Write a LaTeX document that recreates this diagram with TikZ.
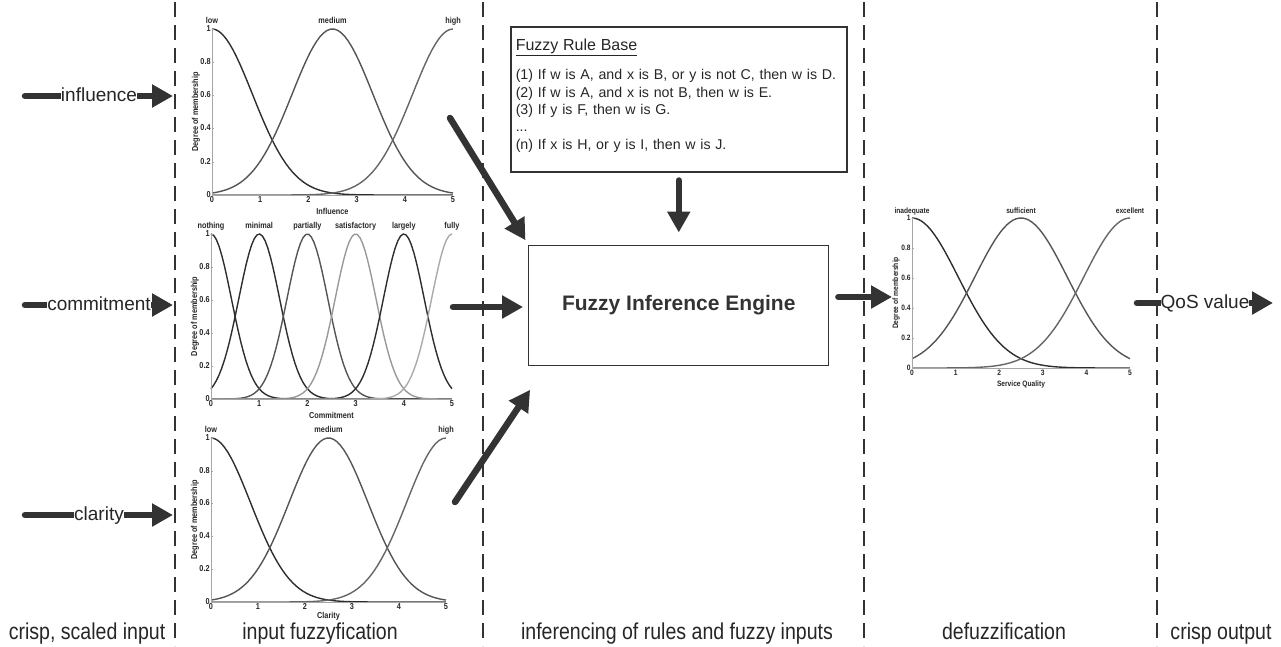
\documentclass[tikz,border=0pt]{standalone}
\usepackage{fontspec}
\setmainfont{Liberation Sans}
\newfontfamily\plotfont[FakeStretch=0.85]{Liberation Sans}
\newfontfamily\narrowfont[FakeStretch=0.85]{Liberation Sans}
\usepackage{xcolor}
\usepackage{tikz}
\usetikzlibrary{arrows.meta, positioning}

\definecolor{arrowgray}{HTML}{333333}
\definecolor{mfdark}{HTML}{2E2E2E}
\definecolor{mfmid}{HTML}{555555}
\definecolor{mfgray}{HTML}{666666}
\definecolor{mflight}{HTML}{999999}
\definecolor{mfpale}{HTML}{AAAAAA}

% axes, ticks and axis labels of one membership plot
\newcommand{\mfaxes}[2]{%
  \draw[axisline] (0,0) -- (5,0);
  \draw[axisline, line width=0.6pt] (0,0) -- (0,1);
  \foreach \t in {0,...,5}
    \node[ticklabel, below] at (\t,0) {\t};
  \foreach \t in {0,0.2,0.4,0.6,0.8,1} {
    \draw[axisline, line width=0.5pt] (0,\t) -- ++(2pt,0);
    \node[ticklabel, left] at (0,\t) {\t};
  }
  \node[ticklabel] at ([yshift=-#2]2.5,0) {#1};
  \node[ticklabel, rotate=90] at ([xshift=-16pt]0,0.5) {Degree of membership};
}

\begin{document}
\begin{tikzpicture}[x=1pt, y=-1pt,
  divider/.style={dash pattern=on 15pt off 8pt, line width=1.5pt, black!80},
  fatarrow/.style={-{Triangle[length=21pt, width=22pt]}, line width=6.5pt,
                   arrowgray, line cap=round},
  inlabel/.style={fill=white, inner xsep=0pt, inner ysep=1pt, text=black!85,
                  text height=14pt, text depth=4pt,
                  font=\fontsize{19}{21}\selectfont},
  phase/.style={text=black!85, text height=17pt, text depth=5pt,
                font=\narrowfont\fontsize{23}{25}\selectfont},
  rulebox/.style={draw=black!80, line width=1.5pt, align=left, text width=326pt,
                  minimum height=145pt, inner xsep=5pt, text=black!85,
                  font=\fontsize{14.2}{17.4}\selectfont},
  engine/.style={draw=black!80, line width=1.3pt, minimum width=300pt,
                 minimum height=120pt, text=black!80,
                 font=\bfseries\fontsize{21}{24}\selectfont},
  mf/.style={line width=1.4pt, line join=round},
  axisline/.style={gray!70, line width=1pt},
  ticklabel/.style={font=\plotfont\bfseries\fontsize{8.6}{9}\selectfont,
                    inner sep=1.2pt, text height=6.2pt, text depth=1.8pt,
                    text=black!85},
  mflabel/.style={ticklabel, above=2pt}
]
  \useasboundingbox (0,0) rectangle (1281,646);

  % phase boundaries
  \foreach \x in {175,483,864,1157}
    \draw[divider] (\x,2) -- (\x,646);

  % influence
  \begin{scope}[shift={(212pt,-195pt)}, x=48.2pt, y=166pt]
    \foreach \c/\col in {0/mfdark, 2.5/mfmid, 5/mfgray}
      \draw[mf, \col] plot[domain=0:5, samples=70] (\x, {exp(-(\x-\c)^2/1.41)});
    \foreach \c/\lab in {0/low, 2.5/medium, 5/high}
      \node[mflabel] at (\c,1) {\lab};
    \mfaxes{Influence}{17pt}
  \end{scope}

  % commitment
  \begin{scope}[shift={(211pt,-399pt)}, x=48.2pt, y=165pt]
    \foreach \c/\col in {0/mfdark, 1/mfdark, 2/mfmid, 3/mflight, 4/mfdark, 5/mfpale}
      \draw[mf, \col] plot[domain=0:5, samples=90] (\x, {exp(-(\x-\c)^2/0.36)});
    \foreach \c/\lab in {0/nothing, 1/minimal, 2/partially, 3/satisfactory, 4/largely, 5/fully}
      \node[mflabel] at (\c,1) {\lab};
    \mfaxes{Commitment}{17pt}
  \end{scope}

  % clarity
  \begin{scope}[shift={(211pt,-602pt)}, x=47pt, y=164pt]
    \foreach \c/\col in {0/mfdark, 2.5/mfmid, 5/mfgray}
      \draw[mf, \col] plot[domain=0:5, samples=70] (\x, {exp(-(\x-\c)^2/1.41)});
    \foreach \c/\lab in {0/low, 2.5/medium, 5/high}
      \node[mflabel] at (\c,1) {\lab};
    \mfaxes{Clarity}{14pt}
  \end{scope}

  % service quality
  \begin{scope}[shift={(912pt,-368pt)}, x=43.6pt, y=150pt,
      ticklabel/.style={font=\plotfont\bfseries\fontsize{7.8}{8.5}\selectfont,
                        inner sep=1.2pt, text height=5.6pt, text depth=1.6pt,
                        text=black!85}]
    \foreach \c/\col in {0/mfdark, 2.5/mfmid, 5/mfgray}
      \draw[mf, \col] plot[domain=0:5, samples=70] (\x, {exp(-(\x-\c)^2/2.25)});
    \foreach \c/\lab in {0/inadequate, 2.5/sufficient, 5/excellent}
      \node[mflabel] at (\c,1) {\lab};
    \mfaxes{Service Quality}{16pt}
  \end{scope}

  % rule base and engine
  \node[rulebox, anchor=north west] (rules) at (510,26) {%
    {\fontsize{16}{18}\selectfont\underline{Fuzzy Rule Base}}\\[12pt]
    (1) If w is A, and x is B, or y is not C, then w is D.\\
    (2) If w is A, and x is not B, then w is E.\\
    (3) If y is F, then w is G.\\
    ...\\
    (n) If x is H, or y is I, then w is J.\\[-7pt]
    \mbox{}
  };
  \node[engine, below=72pt of rules] (engine) {Fuzzy Inference Engine};

  % crisp inputs
  \coordinate (infA) at (25,96);   \coordinate (infB) at (173,96);
  \coordinate (comA) at (25,305);  \coordinate (comB) at (173,305);
  \coordinate (claA) at (25,515);  \coordinate (claB) at (173,515);
  \draw[fatarrow] (infA) -- (infB) node[midway, inlabel] (influence) {influence};
  \draw[fatarrow] (comA) -- (comB) node[midway, inlabel] (commitment) {commitment};
  \draw[fatarrow] (claA) -- (claB) node[midway, inlabel] (clarity) {clarity};

  % fuzzy inputs into the engine
  \coordinate (infOut) at (450,118);
  \coordinate (comOut) at (453,307);
  \coordinate (claOut) at (455,502);
  \draw[fatarrow, shorten >=5pt] (infOut) -- (engine.north west);
  \draw[fatarrow, shorten >=5pt] (comOut) -- (engine.west |- comOut);
  \draw[fatarrow] (claOut) -- ([xshift=2pt, yshift=-24pt]engine.south west);
  \draw[fatarrow, shorten <=8pt, shorten >=12pt] (rules) -- (engine);

  % defuzzification and crisp output
  \coordinate (defIn) at (892,297);
  \draw[fatarrow, shorten <=9pt] (engine.east |- defIn) -- (defIn);
  \coordinate (qosA) at (1137,303); \coordinate (qosB) at (1273,303);
  \draw[fatarrow] (qosA) -- (qosB) node[midway, inlabel] (qos) {QoS value};

  % phase names
  \node[phase] (crispIn)  at (87,633)   {crisp, scaled input};
  \node[phase] (fuzzify)  at (320,633)  {input fuzzyfication};
  \node[phase] (infer)    at (677,633)  {inferencing of rules and fuzzy inputs};
  \node[phase] (defuzz)   at (1004,633) {defuzzification};
  \node[phase] (crispOut) at (1221,633) {crisp output};
\end{tikzpicture}
\end{document}
